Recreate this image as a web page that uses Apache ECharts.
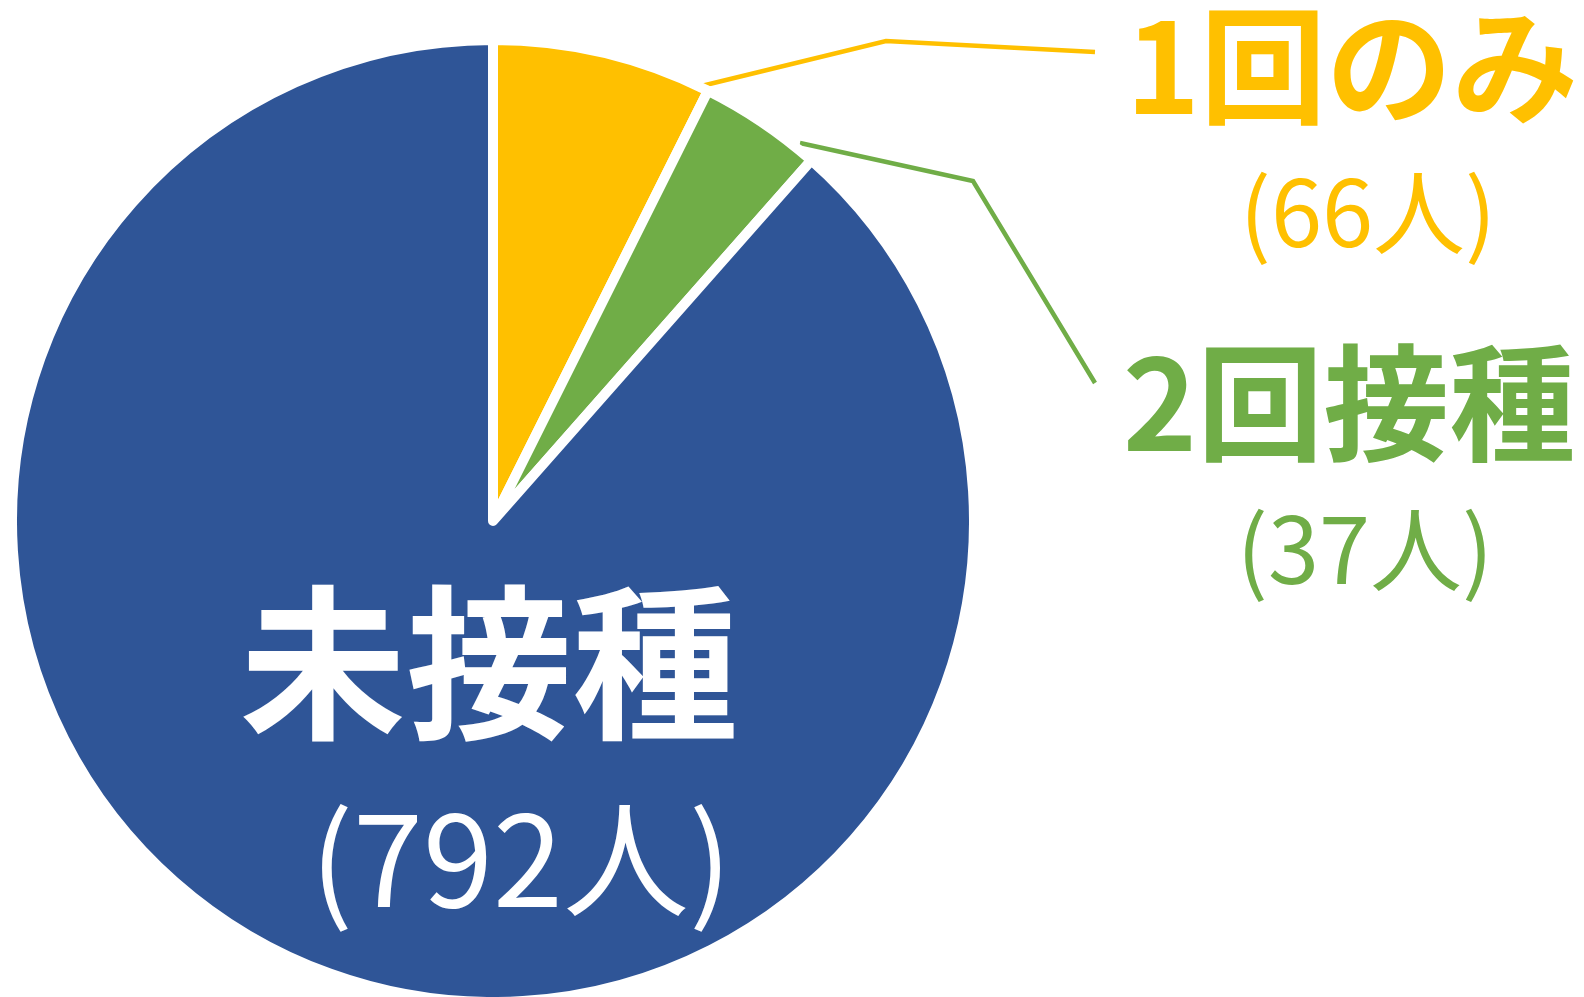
<!DOCTYPE html>
<html>
<head>
<meta charset="utf-8">
<script src="https://cdn.jsdelivr.net/npm/echarts@6/dist/echarts.min.js"></script>
<style>
  html, body { margin: 0; padding: 0; background: #ffffff; }
  #chart { width: 1584px; height: 997px; }
</style>
</head>
<body>
<div id="chart"></div>
<script>
// 接種状況（人数）
const categories = ['1回のみ', '2回接種', '未接種'];
const counts = [66, 37, 792];
const sliceColors = ['#FFC000', '#70AD47', '#2F5597'];
const textColors = ['#FFC000', '#70AD47', '#ffffff'];

// ラベルの配置（中心座標と引き出し線）
const labelPlaces = [
  { x: 1352, y: 139, line: [[685, 90], [886, 41], [1095, 52]] },
  { x: 1349, y: 476, line: [[800, 143], [973, 181], [1095, 383]] },
  { x: 489, y: 761, line: null },
];

const chart = echarts.init(document.getElementById('chart'));

const seriesData = categories.map((name, i) => {
  const big = i === 2;
  return {
    name,
    value: counts[i],
    itemStyle: { color: sliceColors[i] },
    label: {
      position: big ? 'inside' : 'outside',
      overflow: 'none',
      formatter: '{n|{b}}\n{v|(' + counts[i] + '人)}',
      rich: {
        n: {
          fontFamily: 'Noto Sans CJK JP',
          fontWeight: 'bold',
          fontSize: big ? 166 : 126,
          lineHeight: big ? 197 : 146,
          color: textColors[i],
        },
        v: {
          fontFamily: 'Noto Sans CJK JP',
          fontWeight: 'normal',
          fontSize: big ? 126 : 92,
          lineHeight: big ? 197 : 146,
          padding: [0, 0, 0, big ? 64 : 32],
          color: textColors[i],
        },
      },
    },
    labelLine: {
      show: !big,
      lineStyle: { color: sliceColors[i], width: 4.5 },
    },
  };
});

const option = {
  backgroundColor: '#ffffff',
  animation: false,
  series: [{
    type: 'pie',
    center: [493, 521],
    radius: 481,
    startAngle: 90,
    clockwise: true,
    avoidLabelOverlap: false,
    itemStyle: {
      borderColor: '#ffffff',
      borderWidth: 10,
    },
    label: { show: true },
    labelLine: {
      show: true,
      showAbove: true,
      smooth: false,
      minTurnAngle: 0,
      maxSurfaceAngle: 180,
    },
    labelLayout(params) {
      const p = labelPlaces[params.dataIndex];
      const res = { x: p.x, y: p.y, align: 'center', verticalAlign: 'middle' };
      if (p.line) {
        res.labelLinePoints = p.line;
      }
      return res;
    },
    data: seriesData,
  }],
};

chart.setOption(option);
</script>
</body>
</html>
